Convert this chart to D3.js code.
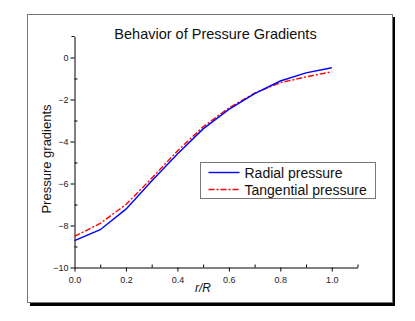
<!DOCTYPE html>
<html>
<head>
<meta charset="utf-8">
<script src="https://cdn.jsdelivr.net/npm/d3@7"></script>
<style>
  body { margin: 0; background: #fff; }
  svg { display: block; font-family: "Liberation Sans", Arial, sans-serif; }
  .axis path, .axis line { stroke: #000; }
  .axis text { fill: #222; font-size: 9px; }
</style>
</head>
<body>
<svg id="chart" width="415" height="321"></svg>
<script>
// values
var xValues = [0.0, 0.1, 0.2, 0.3, 0.4, 0.5, 0.6, 0.7, 0.8, 0.9, 1.0];
var radial = [-8.72, -8.2, -7.22, -5.88, -4.6, -3.4, -2.47, -1.72, -1.12, -0.73, -0.49];
var tangential = [-8.52, -7.9, -7.0, -5.75, -4.45, -3.3, -2.4, -1.7, -1.2, -0.92, -0.68];
var xMajorTicks = [0.0, 0.2, 0.4, 0.6, 0.8, 1.0];
var xMinorTicks = [0.1, 0.3, 0.5, 0.7, 0.9, 1.1];
var yMajorTicks = [-10, -8, -6, -4, -2, 0];
var yMinorTicks = [-9, -7, -5, -3, -1];

var svg = d3.select("#chart");

// frame with drop shadow
svg.append("rect")
  .attr("x", 30).attr("y", 17)
  .attr("width", 365).attr("height", 289)
  .attr("fill", "#000");
svg.append("rect")
  .attr("x", 27.5).attr("y", 14.5)
  .attr("width", 365).attr("height", 288)
  .attr("fill", "#fff")
  .attr("stroke", "#777")
  .attr("stroke-width", 1);

var x = d3.scaleLinear().domain([0, 1.1]).range([74.5, 357.5]);
var y = d3.scaleLinear().domain([-10, 1]).range([267.5, 36.5]);

// x axis: labelled ticks outward, minor ticks inward
svg.append("g")
  .attr("class", "axis")
  .attr("transform", "translate(0," + y(-10) + ")")
  .call(d3.axisBottom(x).tickValues(xMajorTicks).tickSize(4).tickSizeOuter(0)
    .tickFormat(d3.format(".1f")))
  .call(function(g) { g.selectAll("text").attr("dy", "0.9em"); });

svg.append("g")
  .attr("class", "axis")
  .attr("transform", "translate(0," + y(-10) + ")")
  .call(d3.axisTop(x).tickValues(xMinorTicks).tickSize(3).tickSizeOuter(0).tickFormat(""))
  .call(function(g) { g.select(".domain").remove(); });

// y axis
svg.append("g")
  .attr("class", "axis")
  .attr("transform", "translate(" + x(0) + ",0)")
  .call(d3.axisLeft(y).tickValues(yMajorTicks).tickSize(4).tickSizeOuter(0)
    .tickFormat(d3.format("d")))
  .call(function(g) { g.selectAll("text").attr("x", -6); });

svg.append("g")
  .attr("class", "axis")
  .attr("transform", "translate(" + x(0) + ",0)")
  .call(d3.axisRight(y).tickValues(yMinorTicks).tickSize(3).tickSizeOuter(0).tickFormat(""))
  .call(function(g) { g.select(".domain").remove(); });

// small cap at the top of the y axis
svg.append("line")
  .attr("x1", x(0) - 3).attr("x2", x(0))
  .attr("y1", y(1)).attr("y2", y(1))
  .attr("stroke", "#000");

// lines
var line = d3.line()
  .x(function(d, i) { return x(xValues[i]); })
  .y(function(d) { return y(d); });

svg.append("path")
  .datum(tangential)
  .attr("d", line)
  .attr("fill", "none")
  .attr("stroke", "#ff0000")
  .attr("stroke-width", 1.4)
  .attr("stroke-dasharray", "6,2,2,2");

svg.append("path")
  .datum(radial)
  .attr("d", line)
  .attr("fill", "none")
  .attr("stroke", "#0000ff")
  .attr("stroke-width", 1.4);

// title and axis labels
svg.append("text")
  .attr("x", 215.5).attr("y", 39)
  .attr("text-anchor", "middle")
  .attr("font-size", "14.5px")
  .attr("fill", "#111")
  .text("Behavior of Pressure Gradients");

svg.append("text")
  .attr("transform", "translate(51,159) rotate(-90)")
  .attr("text-anchor", "middle")
  .attr("font-size", "13px")
  .attr("fill", "#111")
  .text("Pressure gradients");

svg.append("text")
  .attr("x", 203).attr("y", 292)
  .attr("text-anchor", "middle")
  .attr("font-size", "12px")
  .attr("font-style", "italic")
  .attr("fill", "#111")
  .text("r/R");

// legend
var legendItems = [
  { label: "Radial pressure", color: "#0000ff", dash: null },
  { label: "Tangential pressure", color: "#ff0000", dash: "6,2,2,2" }
];

var legend = svg.append("g").attr("transform", "translate(200.5,162.5)");
legend.append("rect")
  .attr("width", 175).attr("height", 36)
  .attr("fill", "#fff")
  .attr("stroke", "#777");

legendItems.forEach(function(item, i) {
  var cy = 10 + i * 17;
  legend.append("line")
    .attr("x1", 8).attr("x2", 39)
    .attr("y1", cy).attr("y2", cy)
    .attr("stroke", item.color)
    .attr("stroke-width", 1.4)
    .attr("stroke-dasharray", item.dash);
  legend.append("text")
    .attr("x", 44).attr("y", cy + 5)
    .attr("font-size", "14px")
    .attr("fill", "#111")
    .text(item.label);
});
</script>
</body>
</html>
